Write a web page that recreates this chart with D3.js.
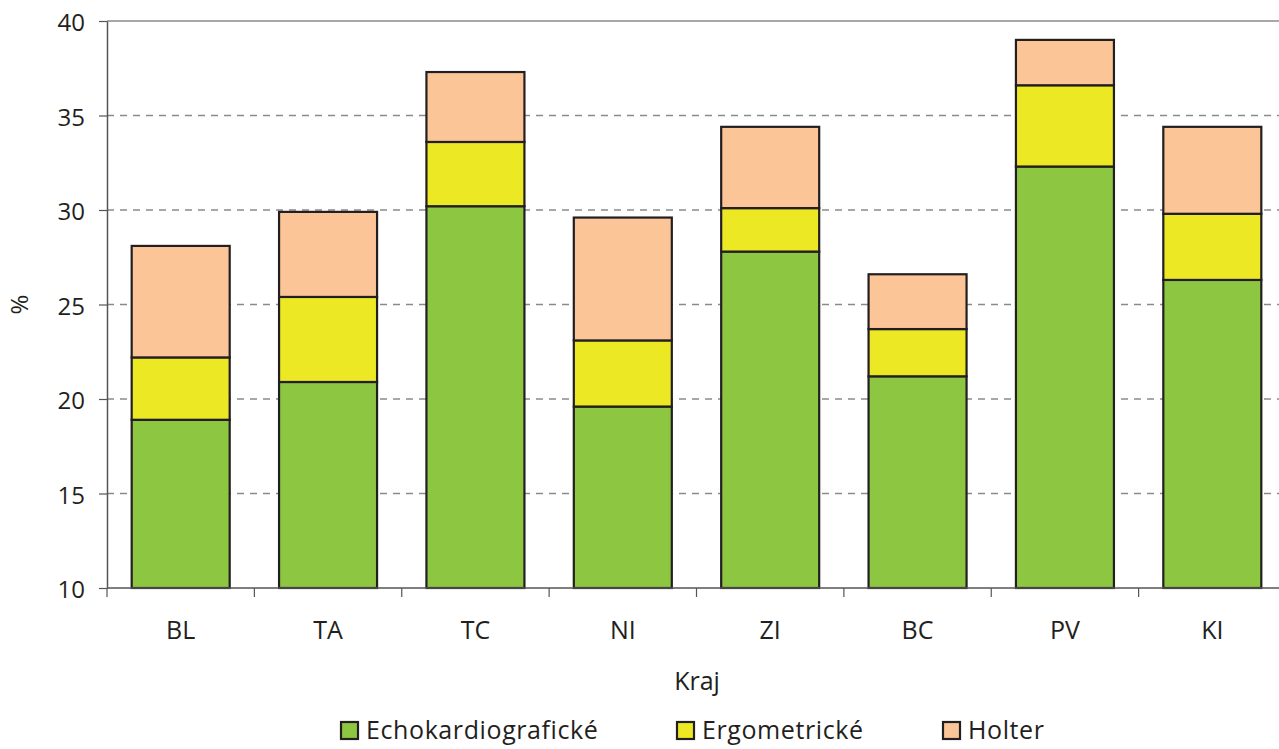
<!DOCTYPE html>
<html>
<head>
<meta charset="utf-8">
<script src="https://cdn.jsdelivr.net/npm/d3@7"></script>
<style>
    body { margin: 0; background: #fff; }
    svg { display: block; font-family: "Open Sans", sans-serif; }
</style>
</head>
<body>
<div id="container"></div>
<script>
const categories = ['BL', 'TA', 'TC', 'NI', 'ZI', 'BC', 'PV', 'KI'];
const seriesNames = ['Echokardiografické', 'Ergometrické', 'Holter'];
const echo = [18.9, 20.9, 30.2, 19.6, 27.8, 21.2, 32.3, 26.3];
const ergo = [3.3, 4.5, 3.4, 3.5, 2.3, 2.5, 4.3, 3.5];
const holter = [5.9, 4.5, 3.7, 6.5, 4.3, 2.9, 2.4, 4.6];
const yTicks = [10, 15, 20, 25, 30, 35, 40];
const colors = ['#8dc641', '#ece824', '#fcc597'];

const width = 1279;
const height = 749;
const margin = { top: 21, left: 107, bottom: 161 };
const plotRight = 1286;
const yMin = 10;

const rows = categories.map((c, i) => ({
    kraj: c,
    'Echokardiografické': echo[i],
    'Ergometrické': ergo[i],
    'Holter': holter[i]
}));

const stacked = d3.stack().keys(seriesNames)(rows);

const x = d3.scaleBand()
    .domain(categories)
    .range([margin.left, plotRight])
    .paddingInner(0.335)
    .paddingOuter(0.1675);

const y = d3.scaleLinear()
    .domain([yMin, 40])
    .range([height - margin.bottom, margin.top]);

const color = d3.scaleOrdinal(seriesNames, colors);

const svg = d3.select('#container')
    .append('svg')
    .attr('width', width)
    .attr('height', height);

// gridlines
svg.append('g')
    .selectAll('line')
    .data(yTicks.filter(d => d > 10 && d < 40))
    .join('line')
    .attr('x1', margin.left)
    .attr('x2', plotRight)
    .attr('y1', d => y(d))
    .attr('y2', d => y(d))
    .attr('stroke', '#8a8a8a')
    .attr('stroke-width', 1.3)
    .attr('stroke-dasharray', '7,6');

// top border
svg.append('line')
    .attr('x1', margin.left).attr('x2', plotRight)
    .attr('y1', y(40)).attr('y2', y(40))
    .attr('stroke', '#8a8a8a').attr('stroke-width', 1.5);

// bars (bottom segment starts at the axis minimum)
svg.append('g')
    .selectAll('g')
    .data(stacked)
    .join('g')
    .attr('fill', d => color(d.key))
    .selectAll('rect')
    .data(d => d)
    .join('rect')
    .attr('x', d => x(d.data.kraj))
    .attr('y', d => y(d[1]))
    .attr('width', x.bandwidth())
    .attr('height', d => y(Math.max(d[0], yMin)) - y(d[1]))
    .attr('stroke', '#231f20')
    .attr('stroke-width', 2.2);

// y axis
const yAxis = svg.append('g')
    .attr('transform', `translate(${margin.left},0)`)
    .call(d3.axisLeft(y).tickValues(yTicks).tickSize(8).tickPadding(14).tickSizeOuter(0));
yAxis.select('.domain').attr('stroke', '#555').attr('stroke-width', 1.5);
yAxis.selectAll('.tick line').attr('stroke', '#555').attr('stroke-width', 1.2);
yAxis.selectAll('.tick text')
    .attr('font-size', 24)
    .attr('dy', '0.4em')
    .attr('fill', '#231f20')
    .attr('font-family', '"Open Sans", sans-serif');

// x axis with ticks at band boundaries
const xAxisG = svg.append('g')
    .attr('transform', `translate(0,${y(yMin)})`);
xAxisG.append('line')
    .attr('x1', margin.left).attr('x2', plotRight)
    .attr('stroke', '#555').attr('stroke-width', 1.5);
const step = x.step();
xAxisG.selectAll('.sep')
    .data(categories)
    .join('line')
    .attr('class', 'sep')
    .attr('x1', (d, i) => margin.left + i * step)
    .attr('x2', (d, i) => margin.left + i * step)
    .attr('y1', 0)
    .attr('y2', 9)
    .attr('stroke', '#555')
    .attr('stroke-width', 1.2);
xAxisG.selectAll('.lbl')
    .data(categories)
    .join('text')
    .attr('class', 'lbl')
    .attr('x', d => x(d) + x.bandwidth() / 2)
    .attr('y', 51)
    .attr('text-anchor', 'middle')
    .attr('font-size', 25)
    .attr('fill', '#231f20')
    .text(d => d);

// axis titles
svg.append('text')
    .attr('x', 697)
    .attr('y', 690)
    .attr('text-anchor', 'middle')
    .attr('font-size', 25)
    .attr('fill', '#231f20')
    .text('Kraj');

svg.append('text')
    .attr('transform', `translate(28,${y(25)}) rotate(-90)`)
    .attr('text-anchor', 'middle')
    .attr('font-size', 24)
    .attr('fill', '#231f20')
    .text('%');

// legend
const legendX = [341, 677, 943];
const legend = svg.append('g')
    .selectAll('g')
    .data(seriesNames)
    .join('g')
    .attr('transform', (d, i) => `translate(${legendX[i]},722)`);
legend.append('rect')
    .attr('width', 17)
    .attr('height', 17)
    .attr('fill', d => color(d))
    .attr('stroke', '#231f20')
    .attr('stroke-width', 2.2);
legend.append('text')
    .attr('x', 25)
    .attr('y', 17)
    .attr('font-size', 25)
    .attr('letter-spacing', 0.6)
    .attr('fill', '#231f20')
    .text(d => d);
</script>
</body>
</html>
